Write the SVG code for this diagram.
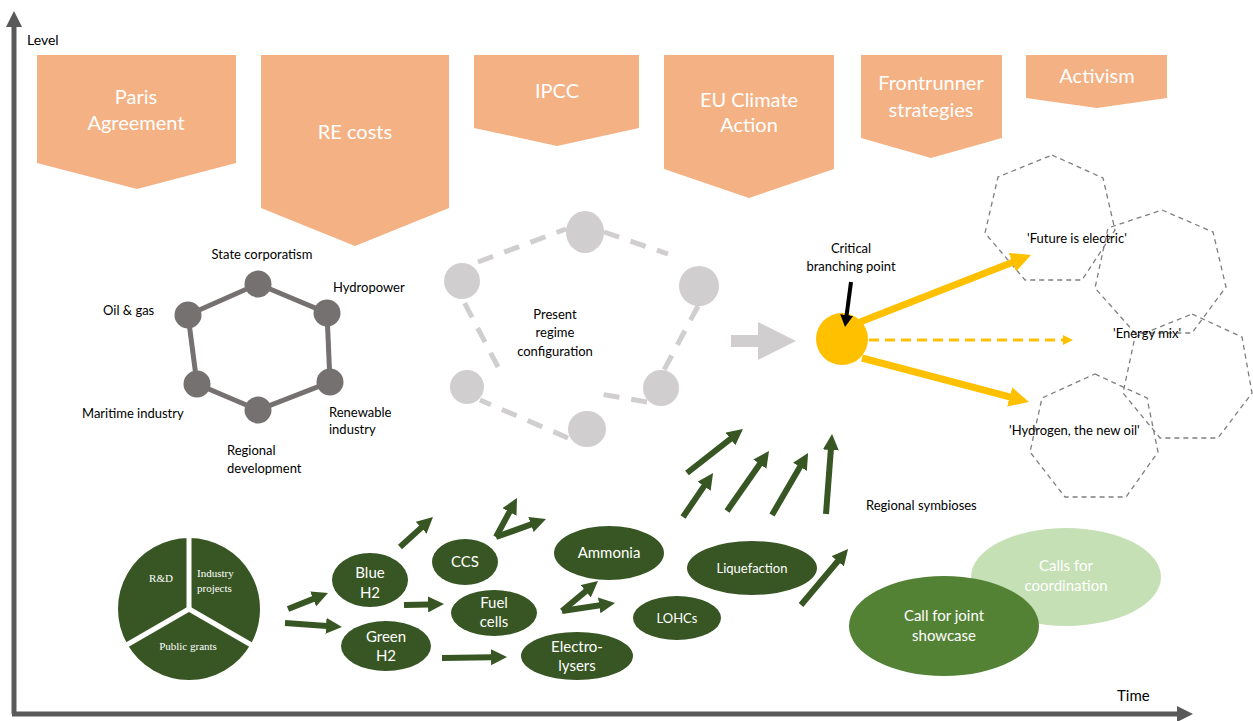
<svg xmlns="http://www.w3.org/2000/svg" width="1253" height="721" viewBox="0 0 1253 721">
<style>
.t{font-family:Lato,"Liberation Sans",sans-serif;fill:#000}
.l13{font-size:13px}
.w{fill:#fff}
.box{fill:#f4b183}
.bt{font-family:Lato,"Liberation Sans",sans-serif;font-size:20px;fill:#fff;text-anchor:middle}
.et{font-family:Lato,"Liberation Sans",sans-serif;font-size:15px;fill:#fff;text-anchor:middle}
.es{font-family:Lato,"Liberation Sans",sans-serif;font-size:13px;fill:#fff;text-anchor:middle}
.pt{font-family:"Liberation Serif",serif;font-size:11px;fill:#fff}
.dg{fill:#375623}
.hexn{fill:#767171}
.ring{fill:#d0cece}
.ringl{stroke:#d0cece;stroke-width:5;stroke-dasharray:16 12;fill:none}
.hept{fill:none;stroke:#7f7f7f;stroke-width:1.3;stroke-dasharray:5 4}
.ga{stroke:#375623;stroke-width:6;fill:none;marker-end:url(#gh)}
.ax{stroke:#595959;stroke-width:5}
</style>
<defs>
<marker id="gh" markerUnits="userSpaceOnUse" markerWidth="16" markerHeight="16" refX="1" refY="8" orient="auto"><path d="M0,0 L16,8 L0,16 z" fill="#375623"/></marker>
<marker id="yh" markerUnits="userSpaceOnUse" markerWidth="20" markerHeight="20" refX="1" refY="10" orient="auto"><path d="M0,0 L20,10 L0,20 z" fill="#ffc000"/></marker>
<marker id="yh2" markerUnits="userSpaceOnUse" markerWidth="10" markerHeight="10" refX="1" refY="5" orient="auto"><path d="M0,0 L10,5 L0,10 z" fill="#ffc000"/></marker>
<marker id="bh" markerUnits="userSpaceOnUse" markerWidth="13" markerHeight="13" refX="1" refY="6.5" orient="auto"><path d="M0,0 L12,6.5 L0,13 z" fill="#000"/></marker>
</defs>

<g id="axes">
<line class="ax" x1="14" y1="714" x2="14" y2="26"/>
<polygon points="6,27 14,11 22,27" fill="#595959"/>
<line class="ax" x1="12" y1="714" x2="1178" y2="714"/>
<polygon points="1177,706 1193,714 1177,722" fill="#595959"/>
<text class="t" x="27" y="45" font-size="14">Level</text>
<text class="t" x="1117" y="701" font-size="15">Time</text>
</g>

<g id="paris"><polygon class="box" points="37,55 236,55 236,163 137,189 37,163"/><text class="bt" x="136" y="104">Paris</text><text class="bt" x="136" y="130">Agreement</text></g>
<g id="recosts"><polygon class="box" points="261,55 449,55 449,208 355,246 261,208"/><text class="bt" x="355" y="139">RE costs</text></g>
<g id="ipcc"><polygon class="box" points="474,55 639,55 639,128 557,146 474,128"/><text class="bt" x="557" y="98">IPCC</text></g>
<g id="eu"><polygon class="box" points="664,55 834,55 834,169 749,198 664,169"/><text class="bt" x="749" y="107">EU Climate</text><text class="bt" x="749" y="132">Action</text></g>
<g id="frontrunner"><polygon class="box" points="861,55 1002,55 1002,138 931,158 861,138"/><text class="bt" x="931" y="90">Frontrunner</text><text class="bt" x="931" y="117">strategies</text></g>
<g id="activism"><polygon class="box" points="1026,55 1167,55 1167,98 1097,108 1026,98"/><text class="bt" x="1097" y="83">Activism</text></g>

<g id="regime-hexagon">
<polygon points="258,284 327,313 330,382 258,410 197,384 188,315" fill="none" stroke="#767171" stroke-width="5"/>
<circle class="hexn" cx="258" cy="284" r="13.5"/>
<circle class="hexn" cx="327" cy="313" r="13.5"/>
<circle class="hexn" cx="330" cy="382" r="13.5"/>
<circle class="hexn" cx="258" cy="410" r="13.5"/>
<circle class="hexn" cx="197" cy="384" r="13.5"/>
<circle class="hexn" cx="188" cy="315" r="13.5"/>
<text class="t l13" x="262" y="259" text-anchor="middle">State corporatism</text>
<text class="t l13" x="333" y="292">Hydropower</text>
<text class="t l13" x="103" y="315">Oil &amp; gas</text>
<text class="t l13" x="82" y="418">Maritime industry</text>
<text class="t l13" x="329" y="417">Renewable</text>
<text class="t l13" x="329" y="434">industry</text>
<text class="t l13" x="227" y="455">Regional</text>
<text class="t l13" x="227" y="473">development</text>
</g>

<g id="present-regime">
<line class="ringl" x1="478" y1="262" x2="566" y2="229"/>
<line class="ringl" x1="604" y1="232" x2="668" y2="254"/>
<line class="ringl" x1="698" y1="306" x2="664" y2="370"/>
<line class="ringl" x1="647" y1="402" x2="600" y2="394"/>
<line class="ringl" x1="568" y1="438" x2="480" y2="400"/>
<line class="ringl" x1="498" y1="367" x2="463" y2="300"/>
<ellipse class="ring" cx="585" cy="232" rx="19" ry="21"/>
<ellipse class="ring" cx="462" cy="281" rx="18" ry="18"/>
<ellipse class="ring" cx="699" cy="286" rx="20" ry="20"/>
<ellipse class="ring" cx="467" cy="387" rx="17" ry="17"/>
<ellipse class="ring" cx="661" cy="388" rx="18" ry="18"/>
<ellipse class="ring" cx="587" cy="429" rx="19" ry="18"/>
<text class="t l13" x="555" y="319" text-anchor="middle">Present</text>
<text class="t l13" x="555" y="337" text-anchor="middle">regime</text>
<text class="t l13" x="555" y="356" text-anchor="middle">configuration</text>
</g>

<g id="grey-arrow"><polygon points="731,335 758,335 758,322 796,341 758,360 758,347 731,347" fill="#d0cece"/></g>

<g id="branching-point">
<circle cx="842" cy="339" r="26" fill="#ffc000"/>
<text class="t l13" x="851" y="253" text-anchor="middle">Critical</text>
<text class="t l13" x="851" y="271" text-anchor="middle">branching point</text>
</g>

<g id="futures">
<polygon class="hept" points="1052,155 1103,178 1115,230 1082,280 1025,280 985,233 998,177"/>
<polygon class="hept" points="1162,210 1213,232 1226,287 1192,333 1135,333 1095,288 1108,228"/>
<polygon class="hept" points="1192,314 1242,337 1252,393 1218,438 1160,438 1123,393 1135,337"/>
<polygon class="hept" points="1095,374 1147,398 1158,452 1126,497 1065,497 1030,452 1042,398"/>
<text class="t l13" x="1027" y="243">'Future is electric'</text>
<text class="t l13" x="1113" y="338">'Energy mix'</text>
<text class="t l13" x="1009" y="435">'Hydrogen, the new oil'</text>
</g>

<g id="pie">
<path class="dg" d="M189,609 L189,538 A71,71 0 0 1 250.5,644.5 Z"/>
<path class="dg" d="M189,609 L250.5,644.5 A71,71 0 0 1 127.5,644.5 Z"/>
<path class="dg" d="M189,609 L127.5,644.5 A71,71 0 0 1 189,538 Z"/>
<g stroke="#fff" stroke-width="5">
<line x1="189" y1="609" x2="189" y2="534"/>
<line x1="189" y1="609" x2="254" y2="646.5"/>
<line x1="189" y1="609" x2="124" y2="646.5"/>
</g>
<text class="pt" x="161" y="582" text-anchor="middle">R&amp;D</text>
<text class="pt" x="197" y="577" font-family="Lato,sans-serif">Industry</text>
<text class="pt" x="197" y="592">projects</text>
<text class="pt" x="188" y="650" text-anchor="middle">Public grants</text>
</g>

<g id="blue-h2"><ellipse class="dg" cx="370" cy="580" rx="38" ry="27"/><text class="et" x="370" y="578">Blue</text><text class="et" x="370" y="598">H2</text></g>
<g id="green-h2"><ellipse class="dg" cx="386" cy="646" rx="45" ry="25"/><text class="et" x="386" y="642">Green</text><text class="et" x="386" y="661">H2</text></g>
<g id="ccs"><ellipse class="dg" cx="465" cy="562" rx="33" ry="23"/><text class="et" x="465" y="567">CCS</text></g>
<g id="fuel-cells"><ellipse class="dg" cx="494" cy="613" rx="43" ry="23"/><text class="et" x="494" y="608">Fuel</text><text class="et" x="494" y="627">cells</text></g>
<g id="ammonia"><ellipse class="dg" cx="609" cy="553" rx="55" ry="27"/><text class="et" x="609" y="558">Ammonia</text></g>
<g id="electrolysers"><ellipse class="dg" cx="577" cy="656" rx="56" ry="24"/><text class="et" x="577" y="652">Electro-</text><text class="et" x="577" y="671">lysers</text></g>
<g id="lohcs"><ellipse class="dg" cx="677" cy="618" rx="44" ry="22"/><text class="es" x="677" y="623">LOHCs</text></g>
<g id="liquefaction"><ellipse class="dg" cx="752" cy="568" rx="65" ry="27"/><text class="es" x="752" y="573">Liquefaction</text></g>

<g id="regional-symbioses"><text class="t l13" x="866" y="510">Regional symbioses</text></g>
<g id="calls-coordination"><ellipse cx="1066" cy="577" rx="95" ry="49" fill="#c5e0b4"/><text class="et" x="1066" y="571">Calls for</text><text class="et" x="1066" y="591">coordination</text></g>
<g id="call-showcase"><ellipse cx="944" cy="626" rx="95" ry="50" fill="#548235"/><text class="et" x="944" y="621">Call for joint</text><text class="et" x="944" y="641">showcase</text></g>

<g id="connectors">
<line x1="860" y1="322" x2="1013.3" y2="261.9" stroke="#ffc000" stroke-width="7" marker-end="url(#yh)"/>
<line x1="862" y1="358" x2="1010.6" y2="397.2" stroke="#ffc000" stroke-width="7" marker-end="url(#yh)"/>
<line x1="869" y1="340" x2="1064" y2="340" stroke="#ffc000" stroke-width="3" stroke-dasharray="10 6" marker-end="url(#yh2)"/>
<line x1="851" y1="282" x2="846.5" y2="316" stroke="#000" stroke-width="4" marker-end="url(#bh)"/>
<line class="ga" x1="288" y1="609" x2="314.1" y2="598.6"/>
<line class="ga" x1="285" y1="623" x2="327" y2="625.9"/>
<line class="ga" x1="400" y1="547" x2="421.9" y2="527.1"/>
<line class="ga" x1="404" y1="605" x2="429" y2="604.4"/>
<line class="ga" x1="442" y1="658" x2="492" y2="657.2"/>
<line class="ga" x1="496" y1="537" x2="509.9" y2="511.2"/>
<line class="ga" x1="496" y1="537" x2="531.9" y2="524.1"/>
<line class="ga" x1="562" y1="611" x2="586.5" y2="590.6"/>
<line class="ga" x1="562" y1="611" x2="600.2" y2="605.2"/>
<line class="ga" x1="687" y1="473" x2="731.2" y2="438.3"/>
<line class="ga" x1="683" y1="517" x2="704.6" y2="485.4"/>
<line class="ga" x1="727" y1="511" x2="760.4" y2="463.3"/>
<line class="ga" x1="772" y1="515" x2="800.5" y2="466"/>
<line class="ga" x1="826" y1="514" x2="830.9" y2="449"/>
<line class="ga" x1="801" y1="605" x2="838.4" y2="560.5"/>
</g>
</svg>
